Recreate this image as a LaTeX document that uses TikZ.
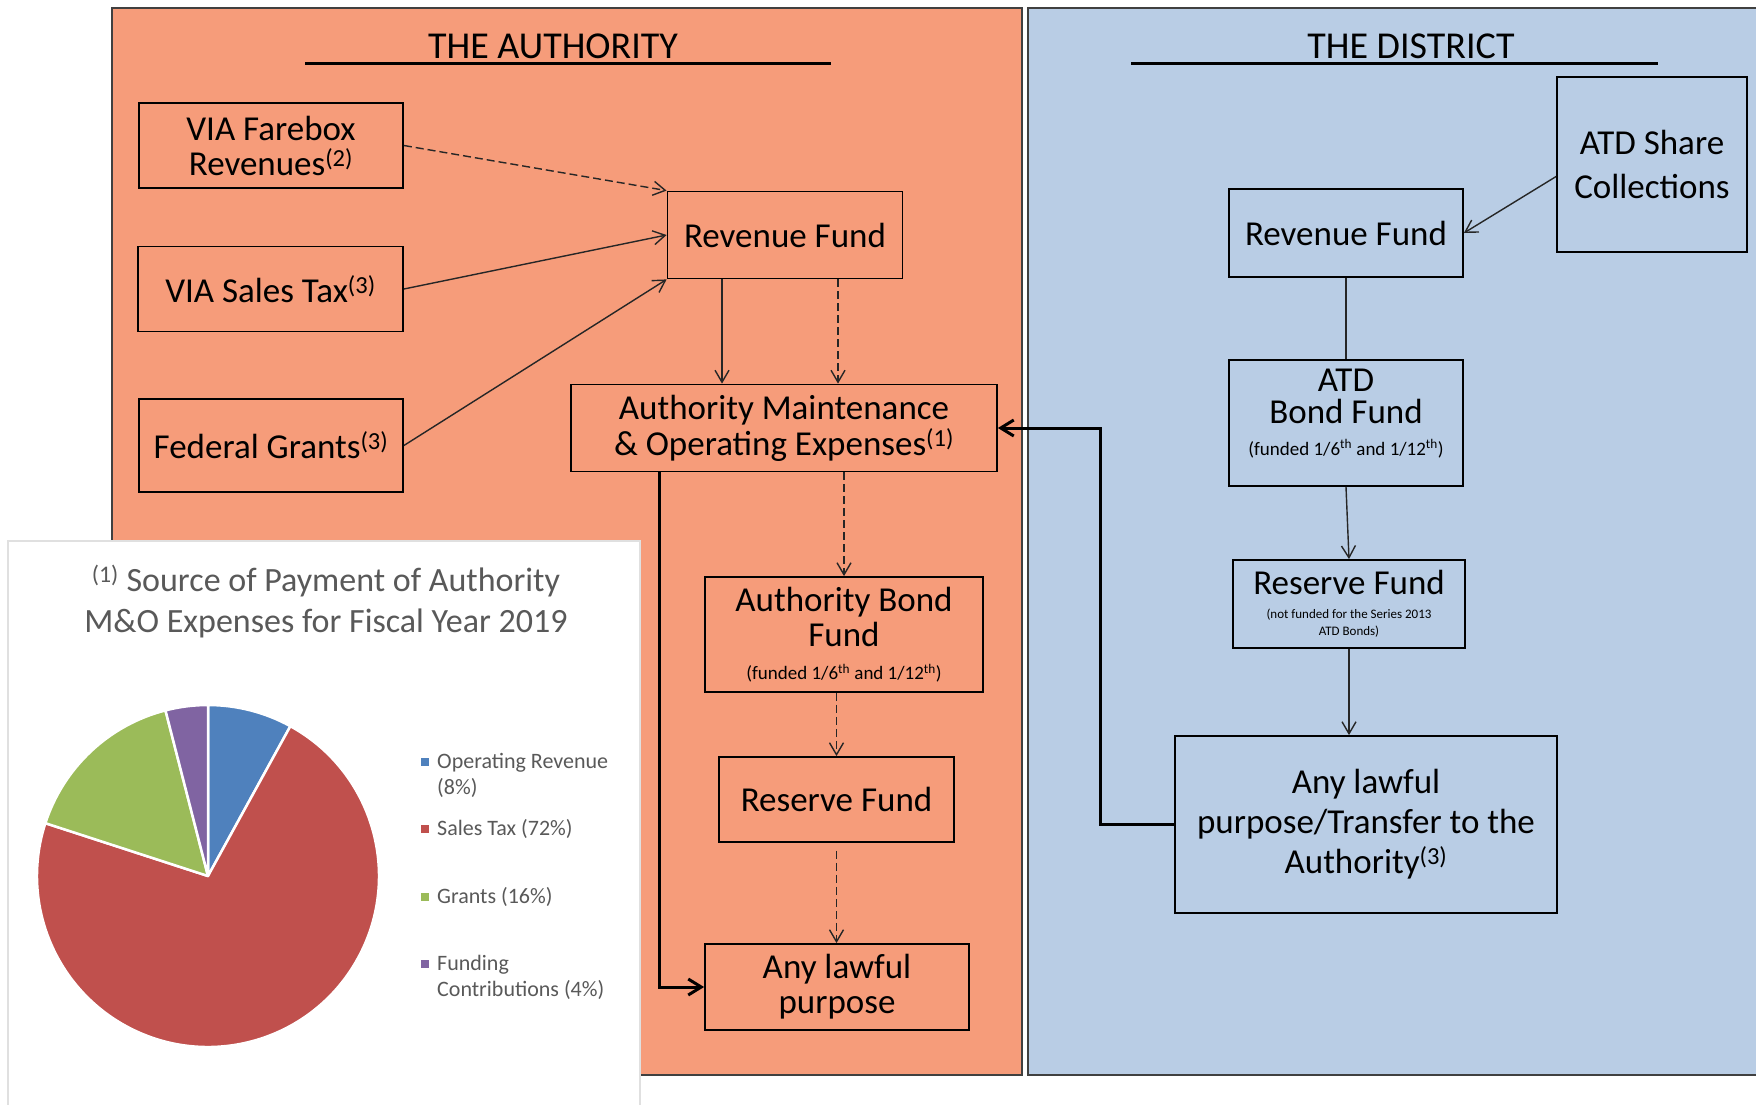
\documentclass[tikz,border=0pt]{standalone}
\usepackage{fontspec}
\setmainfont{Carlito}
\usepackage{tikz}
\usetikzlibrary{arrows.meta,positioning,calc}
\definecolor{authfill}{HTML}{F69C7A}
\definecolor{distfill}{HTML}{B9CDE5}
\definecolor{chgray}{HTML}{595959}
\definecolor{pblue}{HTML}{4F81BD}
\definecolor{pred}{HTML}{C0504D}
\definecolor{pgreen}{HTML}{9BBB59}
\definecolor{ppurple}{HTML}{8064A2}
\newcommand{\fundnote}{\fontsize{19}{31}\selectfont}
\tikzset{
  panel/.style  ={draw=black!75, line width=1.5pt},
  fundbox/.style={rectangle, draw=black, line width=1.8pt, align=center,
                  inner sep=2pt, font=\fontsize{35}{35}\selectfont},
  abox/.style   ={fundbox, fill=authfill},
  dbox/.style   ={fundbox, fill=distfill},
  ttl/.style    ={font=\fontsize{38}{40}\selectfont, anchor=base},
  uline/.style  ={draw=black, line width=3pt},
  ln/.style     ={draw=black!85, line width=1.4pt},
  ar/.style     ={ln, -{Straight Barb[length=12pt,width=14pt]}},
  dar/.style    ={ar, dash pattern=on 8pt off 4pt},
  thk/.style    ={draw=black, line width=3pt, -{Straight Barb[length=13pt,width=16pt]}},
  slice/.style  ={draw=white, line width=2.5pt, line join=round},
  lgd/.style    ={text=chgray, font=\fontsize{22}{26}\selectfont, align=left, inner sep=0pt}
}
\begin{document}
\begin{tikzpicture}[x=1pt, y=-1pt]
\useasboundingbox (0,0) rectangle (1756,1104);
% the two panels
\draw[panel, fill=authfill] (112,8) rectangle (1022,1075);
\draw[panel, fill=distfill] (1028,8) rectangle (1762,1075);
\node[ttl] (authttl) at (553,58) {THE AUTHORITY};
\node[ttl] (distttl) at (1411,58) {THE DISTRICT};
\draw[uline] (305,63) -- (831,63);
\draw[uline] (1131,63) -- (1658,63);

% authority side
\node[abox, minimum width=264pt, minimum height=85pt]
  (farebox) at (271,145.5) {VIA Farebox\\Revenues\textsuperscript{(2)}};
\node[abox, minimum width=265pt, minimum height=85pt] (salestax) at (270.5,289)
  {VIA Sales Tax\textsuperscript{(3)}};
\node[abox, minimum width=264pt, minimum height=93pt] (grants) at (271,445.5)
  {Federal Grants\textsuperscript{(3)}};
\node[abox, minimum width=235pt, minimum height=87pt] (revA) at (785,235) {Revenue Fund};
\node[abox, minimum width=426pt, minimum height=87pt, font=\fontsize{35}{36}\selectfont]
  (mo) at (784,428) {Authority Maintenance\\\& Operating Expenses\textsuperscript{(1)}};
\node[abox, minimum width=278pt, minimum height=115pt, font=\fontsize{35}{33}\selectfont]
  (abf) at (844,634.5)
  {Authority Bond\\[2pt]Fund\\\fundnote(funded 1/6\textsuperscript{th} and 1/12\textsuperscript{th})};
\node[abox, minimum width=235pt, minimum height=85pt] (rsvA) at (836.5,799.5) {Reserve Fund};
\node[abox, minimum width=264pt, minimum height=86pt]
  (anyA) at (837,987) {Any lawful\\purpose};

% district side
\node[dbox, minimum width=190pt, minimum height=175pt, font=\fontsize{35}{44}\selectfont]
  (atd) at (1652,164.5) {ATD Share\\Collections};
\node[dbox, minimum width=234pt, minimum height=88pt] (revD) at (1346,233) {Revenue Fund};
\node[dbox, minimum width=234pt, minimum height=126pt, font=\fontsize{35}{32}\selectfont]
  (bondD) at (1346,423)
  {ATD\\Bond Fund\\\fundnote(funded 1/6\textsuperscript{th} and 1/12\textsuperscript{th})\\[-10pt]\mbox{}};
\node[dbox, minimum width=232pt, minimum height=88pt, font=\fontsize{35}{17}\selectfont]
  (rsvD) at (1349,604)
  {Reserve Fund\\[7pt]\fontsize{13}{17}\selectfont(not funded for the Series 2013\\\fontsize{13}{17}\selectfont ATD Bonds)};
\node[dbox, minimum width=382pt, minimum height=177pt, font=\fontsize{35}{40}\selectfont]
  (anyD) at (1366,824.5) {Any lawful\\purpose/Transfer to the\\Authority\textsuperscript{(3)}};

% flows
\draw[dar] (farebox.east) -- (revA.north west);
\draw[ar] (salestax.east) -- (revA.west);
\draw[ar] (grants.east) -- (revA.south west);
\coordinate (rA1) at ([xshift=-63pt]revA.south);
\coordinate (rA2) at ([xshift=53pt]revA.south);
\draw[ar] (rA1) -- (rA1 |- mo.north);
\draw[dar] (rA2) -- (rA2 |- mo.north);
\draw[dar] (abf.north |- mo.south) -- (abf.north);
\draw[dar] (rsvA.north |- abf.south) -- (rsvA.north);
\draw[dar] ([yshift=-8pt]rsvA.south) -- (rsvA.south |- anyA.north);
\coordinate (moL) at ([xshift=89pt]mo.south west);
\draw[thk] (moL) |- (anyA.west);
\draw[ar] ([yshift=-12pt]atd.west) -- (revD.east);
\draw[ln] (revD.south) -- (revD.south |- bondD.north);
\draw[ar] (bondD.south) -- (rsvD.north);
\draw[ar] (rsvD.south) -- (rsvD.south |- anyD.north);
\draw[thk] (anyD.west) -- ++(-74,0) |- (mo.east);

% chart inset
\draw[draw=black!12, line width=1.5pt, fill=white] (8,541) rectangle (640,1110);
\node[text=chgray, font=\fontsize{34}{41}\selectfont, align=center] (ctitle) at (326,602)
  {\textsuperscript{(1)} Source of Payment of Authority\\M\&O Expenses for Fiscal Year 2019};
\coordinate (pc) at (208,876);
\fill[pblue, slice] (pc) -- ++(-90:171) arc[start angle=-90, end angle=-61.2, radius=171] -- cycle;
\fill[pred, slice] (pc) -- ++(-61.2:171) arc[start angle=-61.2, end angle=198, radius=171] -- cycle;
\fill[pgreen, slice] (pc) -- ++(-162:171) arc[start angle=-162, end angle=-104.4, radius=171] -- cycle;
\fill[ppurple, slice] (pc) -- ++(-104.4:171) arc[start angle=-104.4, end angle=-90, radius=171] -- cycle;
\fill[pblue] (421,758) rectangle (429,766);
\fill[pred] (421,825) rectangle (429,833);
\fill[pgreen] (421,893) rectangle (429,901);
\fill[ppurple] (421,960) rectangle (429,968);
\node[lgd, anchor=north west] (lgop) at (437,753) {Operating Revenue\\(8\%)};
\node[lgd, anchor=west] (lgst) at (437,829) {Sales Tax (72\%)};
\node[lgd, anchor=west] (lggr) at (437,897) {Grants (16\%)};
\node[lgd, anchor=north west] (lgfc) at (437,955) {Funding\\Contributions (4\%)};
\end{tikzpicture}
\end{document}
